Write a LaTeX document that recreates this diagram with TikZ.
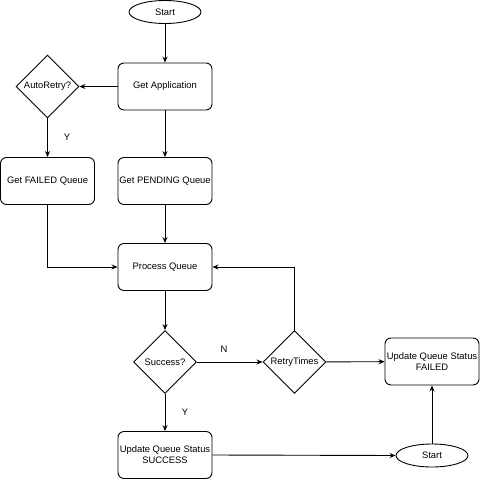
\documentclass[tikz,border=0pt]{standalone}
\usepackage{fontspec}
\setmainfont{Liberation Sans}
\usetikzlibrary{shapes.geometric,arrows.meta}
\begin{document}
\begin{tikzpicture}[x=1pt,y=-1pt,
  every node/.style={font=\fontsize{9.4}{11}\selectfont, inner sep=0pt},
  procbox/.style={draw, rounded corners=6pt, minimum width=94pt, minimum height=47pt, align=center, line width=0.9pt},
  decision/.style={draw, diamond, minimum width=63pt, minimum height=63pt, line width=0.9pt},
  terminal/.style={draw, ellipse, minimum width=72pt, minimum height=23pt, line width=0.9pt},
  arr/.style={-{Stealth[length=6pt,width=5pt,inset=2pt]}, line width=0.9pt},
  lbl/.style={font=\fontsize{9.4}{11}\selectfont}]
\useasboundingbox (0,0) rectangle (480,480);
\node[terminal] (start) at (165,12) {Start};
\node[procbox] (getapp) at (165,86.5) {Get Application};
\node[decision] (auto) at (47.5,86.5) {AutoRetry?};
\node[procbox] (failedq) at (47.5,181) {Get FAILED Queue};
\node[procbox] (pendq) at (165,181) {Get PENDING Queue};
\node[procbox] (proc) at (165,267) {Process Queue};
\node[decision] (succ) at (165,362) {Success?};
\node[decision] (retry) at (294.5,362) {RetryTimes};
\node[procbox] (updfail) at (432,361.5) {Update Queue Status\\FAILED};
\node[procbox] (updsucc) at (165,455) {Update Queue Status\\SUCCESS};
\node[terminal] (start2) at (432,455.5) {Start};
\draw[arr] (start) -- (getapp);
\draw[arr] (getapp) -- (auto);
\draw[arr] (auto) -- (failedq);
\node[lbl] (ylbl1) at (67,137) {Y};
\draw[arr] (getapp) -- (pendq);
\draw[arr] (pendq) -- (proc);
\draw[arr] (failedq.south) |- (proc.west);
\draw[arr] (proc) -- (succ);
\draw[arr] (succ) -- (retry);
\node[lbl] (nlbl) at (224,349) {N};
\draw[arr] (succ) -- (updsucc);
\node[lbl] (ylbl2) at (185,412) {Y};
\draw[arr] (retry.north) |- (proc.east);
\draw[arr] (retry) -- (updfail);
\draw[arr] (updsucc.east) -- (start2.west);
\draw[arr] (start2) -- (updfail);
\end{tikzpicture}
\end{document}
